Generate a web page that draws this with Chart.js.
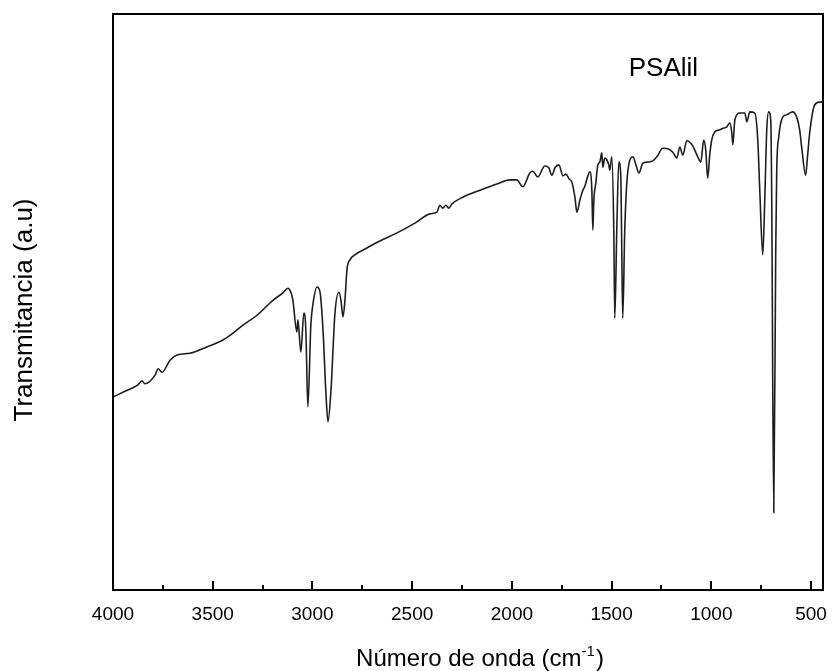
<!DOCTYPE html>
<html>
<head>
<meta charset="utf-8">
<script src="https://cdn.jsdelivr.net/npm/chart.js@4/dist/chart.umd.min.js"></script>
<style>
    html, body { margin: 0; padding: 0; background: #fff; }
    #wrap { width: 834px; height: 671px; }
</style>
</head>
<body>
<div id="wrap"><canvas id="irChart" width="834" height="671"></canvas></div>
<script>
// FTIR spectrum (wavenumber in cm-1, transmittance in arbitrary units 0-100)
const wavenumbers = [
    4000, 3940, 3875, 3855, 3840, 3789, 3774, 3754, 3714, 3679,
    3614, 3529, 3449, 3398, 3348, 3278, 3198, 3148, 3123,
    3108, 3098, 3078, 3073, 3058, 3043, 3033, 3023, 3008, 2998,
    2977, 2962, 2947, 2932, 2922, 2907, 2887, 2867, 2857, 2847,
    2837, 2827, 2812, 2782, 2747, 2662, 2576, 2486, 2411, 2376,
    2361, 2346, 2331, 2316, 2301, 2246, 2160, 2075, 2010, 1975,
    1945, 1910, 1895, 1870, 1835, 1815, 1799, 1784, 1764, 1744,
    1729, 1714, 1699, 1684, 1674, 1659, 1644, 1634, 1619, 1609,
    1599, 1594, 1589, 1579, 1569, 1559, 1549, 1544, 1534, 1524,
    1514, 1509, 1499, 1489, 1484, 1474, 1464, 1454, 1449, 1444,
    1434, 1419, 1393, 1378, 1363, 1343, 1318, 1293, 1273, 1243,
    1218, 1193, 1173, 1158, 1143, 1123, 1093, 1068, 1053, 1038,
    1028, 1018, 1008, 998, 983, 957, 937, 922, 907, 897,
    892, 882, 857, 832, 822, 807, 782, 767, 757, 742,
    732, 722, 712, 702, 697, 687, 677, 672, 662, 642,
    622, 592, 572, 557, 547, 527, 517, 507, 482, 457,
    442
];
const transmittance = [
    33.5, 34.5, 35.6, 36.3, 35.8, 37.3, 38.4, 37.8, 39.9, 40.8,
    41.1, 42.2, 43.4, 44.6, 46.0, 47.7, 50.3, 51.6, 52.4,
    51.7, 50.3, 44.8, 46.9, 41.3, 48.1, 45.1, 31.8, 46.0, 49.5,
    52.6, 51.7, 45.1, 33.9, 29.2, 34.7, 48.1, 51.7, 50.3, 47.4,
    50.3, 55.6, 57.3, 58.3, 59.0, 60.6, 62.0, 63.7, 65.3, 65.6,
    66.8, 66.3, 66.8, 66.3, 67.0, 68.2, 69.4, 70.5, 71.2, 71.2,
    70.0, 72.4, 72.7, 71.7, 73.6, 73.3, 72.0, 73.3, 73.8, 71.9,
    72.2, 71.4, 70.8, 68.2, 65.6, 67.7, 69.4, 70.1, 71.9, 72.6,
    69.4, 62.5, 67.7, 70.7, 73.8, 74.3, 75.9, 73.4, 75.0, 74.7,
    73.8, 72.9, 75.2, 62.5, 47.2, 62.5, 74.3, 72.0, 59.0, 47.2,
    62.5, 72.6, 75.2, 73.8, 72.4, 74.1, 74.3, 74.5, 75.2, 76.7,
    76.6, 76.0, 75.0, 76.9, 75.5, 78.0, 77.1, 75.2, 74.3, 78.1,
    76.4, 71.5, 75.5, 78.1, 79.5, 79.9, 80.2, 80.4, 81.1, 79.3,
    77.3, 81.6, 82.8, 82.8, 81.3, 83.0, 82.8, 78.1, 69.4, 58.2,
    67.7, 79.9, 83.0, 81.6, 67.7, 13.4, 59.0, 72.9, 78.6, 82.1,
    82.5, 83.0, 82.1, 79.9, 76.9, 72.0, 75.5, 79.3, 84.2, 84.7,
    84.7
];
const majorTicks = [4000, 3500, 3000, 2500, 2000, 1500, 1000, 500];
const minorTicks = [3750, 3250, 2750, 2250, 1750, 1250, 750];
const sampleLabel = 'PSAlil';
const xTitle = ['Número de onda (cm', '-1', ')'];
const yTitle = 'Transmitancia (a.u)';

const points = wavenumbers.map((wn, i) => ({ x: wn, y: transmittance[i] }));
const FONT = '"Liberation Sans", Arial, sans-serif';

// Frame, inward tick marks, axis titles and the sample label
const framePlugin = {
    id: 'frame',
    afterDraw(chart) {
        const ctx = chart.ctx;
        const area = chart.chartArea;
        const xScale = chart.scales.x;
        const yScale = chart.scales.y;
        ctx.save();
        ctx.strokeStyle = '#000';
        ctx.lineWidth = 2;
        ctx.strokeRect(area.left, area.top, area.right - area.left, area.bottom - area.top);

        ctx.beginPath();
        majorTicks.forEach((v) => {
            const px = Math.round(xScale.getPixelForValue(v));
            ctx.moveTo(px, area.bottom);
            ctx.lineTo(px, area.bottom - 9);
        });
        minorTicks.forEach((v) => {
            const px = Math.round(xScale.getPixelForValue(v));
            ctx.moveTo(px, area.bottom);
            ctx.lineTo(px, area.bottom - 5);
        });
        ctx.stroke();

        ctx.fillStyle = '#000';
        ctx.font = '26px ' + FONT;
        ctx.textAlign = 'center';
        ctx.textBaseline = 'middle';
        ctx.fillText(sampleLabel, xScale.getPixelForValue(1240), yScale.getPixelForValue(90.5));

        // x title with superscript
        const mainFont = '24px ' + FONT;
        const supFont = '15px ' + FONT;
        ctx.textAlign = 'left';
        ctx.textBaseline = 'alphabetic';
        ctx.font = mainFont;
        const w1 = ctx.measureText(xTitle[0]).width;
        const w3 = ctx.measureText(xTitle[2]).width;
        ctx.font = supFont;
        const w2 = ctx.measureText(xTitle[1]).width + 1;
        let tx = 480 - (w1 + w2 + w3) / 2;
        const base = 666;
        ctx.font = mainFont;
        ctx.fillText(xTitle[0], tx, base);
        tx += w1;
        ctx.font = supFont;
        ctx.fillText(xTitle[1], tx, base - 10);
        tx += w2;
        ctx.font = mainFont;
        ctx.fillText(xTitle[2], tx, base);

        // y title
        ctx.translate(25, 310);
        ctx.rotate(-Math.PI / 2);
        ctx.font = '26px ' + FONT;
        ctx.textAlign = 'center';
        ctx.textBaseline = 'middle';
        ctx.fillText(yTitle, 0, 0);
        ctx.restore();
    }
};

const ctx = document.getElementById('irChart');
new Chart(ctx, {
    type: 'line',
    data: {
        datasets: [
            {
                label: sampleLabel,
                data: points,
                borderColor: '#1e1e1e',
                borderWidth: 1.6,
                pointRadius: 0,
                fill: false,
                cubicInterpolationMode: 'monotone',
            },
        ],
    },
    options: {
        responsive: false,
        animation: false,
        devicePixelRatio: 1,
        layout: {
            padding: { top: 14, right: 11, left: 0, bottom: 0 },
        },
        plugins: {
            legend: { display: false },
            tooltip: { enabled: false },
        },
        scales: {
            x: {
                type: 'linear',
                reverse: true,
                min: 440,
                max: 4000,
                grid: { display: false },
                border: { display: false },
                afterBuildTicks: (scale) => {
                    scale.ticks = majorTicks.map((v) => ({ value: v }));
                },
                afterFit: (scale) => {
                    scale.height = 81;
                    scale.paddingLeft = 0;
                    scale.paddingRight = 0;
                },
                ticks: {
                    color: '#000',
                    padding: 5,
                    maxRotation: 0,
                    autoSkip: false,
                    font: { family: FONT, size: 19 },
                    callback: (v) => String(v),
                },
                title: { display: false },
            },
            y: {
                min: 0,
                max: 100,
                grid: { display: false },
                border: { display: false },
                ticks: { display: false },
                afterFit: (scale) => {
                    scale.width = 113;
                },
                title: { display: false },
            },
        },
    },
    plugins: [framePlugin],
});
</script>
</body>
</html>
